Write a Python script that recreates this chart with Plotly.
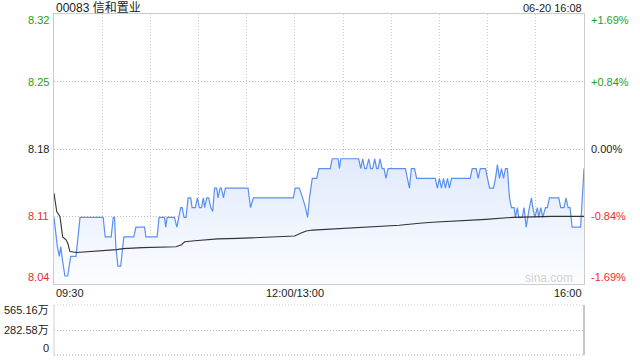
import plotly.graph_objects as go

# ---------------- data ----------------
title_text = "00083 信和置业"
stamp_text = "06-20 16:08"
prev_close = 8.18
price_ticks = [8.32, 8.25, 8.18, 8.11, 8.04]
price_tick_vals = [8.3182, 8.249, 8.18, 8.111, 8.0418]
pct_ticks = ["+1.69%", "+0.84%", "0.00%", "-0.84%", "-1.69%"]
tick_colors = ["#1aa31a", "#1aa31a", "#222222", "#ee2b2b", "#ee2b2b"]
time_labels = ["09:30", "12:00/13:00", "16:00"]
time_label_pos = [0, 150, 330]
grid_minutes = [30, 60, 90, 120, 150, 180, 210, 240, 270, 300]
vol_ticks = ["565.16万", "282.58万", "0"]
vol_tick_vals = [565.16, 282.58, 0]

# minutes since 09:30 (trading minutes, lunch removed) and price
price_t = [0, 2.1, 3.3, 4.2, 5.4, 6.8, 8.5, 10.4, 13.7, 16.2, 30.6, 31.9, 35.6, 36.9, 37.7,
           38.5, 39.8, 41.5, 43.5, 49.7, 51.0, 56.4, 57.2, 64.2, 65.4, 68.8, 69.6, 70.4,
           75.0, 76.5, 78.9, 79.8, 81.0, 82.2, 83.5, 85.1, 86.0, 88.0, 89.3, 90.5, 91.8,
           93.0, 93.8, 95.1, 96.3, 97.6, 98.8, 100.0, 101.3, 102.1, 103.4, 104.2, 105.5,
           106.7, 120.8, 122.4, 124.1, 149.0, 150.2, 152.7, 154.8, 156.6, 157.9, 159.1,
           160.8, 163.6, 164.9, 172.0, 173.2, 176.9, 177.7, 178.6, 189.7, 191.0, 192.2,
           193.5, 194.5, 196.0, 197.2, 198.4, 199.7, 200.9, 201.8, 203.0, 204.3, 205.5,
           206.7, 208.0, 218.8, 220.0, 221.3, 222.5, 224.5, 225.8, 237.4, 238.7, 240.0,
           241.2, 242.5, 243.7, 245.0, 246.2, 247.5, 259.1, 260.4, 262.9, 264.1, 265.4,
           268.7, 269.9, 271.2, 273.6, 274.9, 276.1, 277.4, 278.6, 279.9, 281.1, 282.3,
           283.6, 284.8, 286.5, 287.3, 288.5, 289.4, 291.5, 292.7, 294.0, 294.8, 296.0,
           297.3, 298.1, 299.4, 301.0, 301.8, 303.1, 304.3, 306.0, 307.2, 308.5, 314.3,
           315.5, 317.6, 318.8, 320.1, 321.3, 322.6, 327.9, 330.0]
price_v = [8.11, 8.08, 8.07, 8.08, 8.065, 8.05, 8.05, 8.07, 8.07, 8.11, 8.11, 8.09, 8.09, 8.11, 8.11,
           8.08, 8.06, 8.06, 8.09, 8.09, 8.10, 8.10, 8.09, 8.09, 8.11, 8.11, 8.10, 8.11,
           8.11, 8.10, 8.12, 8.12, 8.11, 8.11, 8.13, 8.13, 8.12, 8.12, 8.13, 8.12, 8.12,
           8.13, 8.12, 8.13, 8.13, 8.12, 8.116, 8.14, 8.14, 8.13, 8.14, 8.14, 8.13,
           8.14, 8.14, 8.12, 8.13, 8.13, 8.14, 8.14, 8.13, 8.12, 8.11, 8.13,
           8.15, 8.15, 8.16, 8.16, 8.17, 8.17, 8.16, 8.17, 8.17, 8.16, 8.17,
           8.16, 8.16, 8.17, 8.16, 8.16, 8.17, 8.16, 8.16, 8.17, 8.16, 8.16,
           8.15, 8.16, 8.16, 8.15, 8.14, 8.16, 8.16, 8.15, 8.15, 8.14, 8.15,
           8.14, 8.15, 8.14, 8.15, 8.14, 8.15, 8.15, 8.16, 8.16, 8.15, 8.16,
           8.16, 8.15, 8.14, 8.14, 8.15, 8.164, 8.15, 8.16, 8.15, 8.16, 8.16,
           8.13, 8.12, 8.12, 8.11, 8.12, 8.11, 8.11, 8.12, 8.10, 8.11, 8.12,
           8.13, 8.12, 8.11, 8.12, 8.11, 8.12, 8.11, 8.12, 8.12, 8.13, 8.13,
           8.12, 8.12, 8.13, 8.12, 8.12, 8.10, 8.10, 8.16]

avg_t = [0, 1.7, 3.7, 5.4, 7.5, 8.7, 9.9, 14.1, 39.0, 43.0, 55.0, 76.0, 79.4, 81.4, 87.6,
         102.0, 114.5, 120.6, 137.3, 149.8, 153.9, 156.0, 157.0, 161.0, 171.5, 186.0,
         202.6, 215.0, 227.5, 235.7, 268.9, 285.5, 310.3, 330.0]
avg_v = [8.135, 8.116, 8.111, 8.09, 8.087, 8.083, 8.075, 8.074, 8.077, 8.078, 8.079, 8.080,
         8.082, 8.085, 8.086, 8.088, 8.0885, 8.089, 8.090, 8.091, 8.094, 8.095, 8.096,
         8.097, 8.098, 8.100, 8.101, 8.102, 8.104, 8.105, 8.108, 8.110, 8.111, 8.111]

# ---------------- geometry ----------------
W, H = 640, 360
X0, X1 = 54 / W, 584 / W
MAIN = [1 - 284 / H, 1 - 14 / H]
VOL = [1 - 355 / H, 1 - 305 / H]
ymin, ymax = price_tick_vals[-1], price_tick_vals[0]
FONT = "Arial, 'Liberation Sans', 'Noto Sans CJK SC', sans-serif"
DOT = "1px,2px"

fig = go.Figure()
# baseline for the area fill
fig.add_trace(go.Scatter(x=[0, 330], y=[ymin, ymin], mode="lines",
                         line=dict(width=0, color="rgba(0,0,0,0)"),
                         hoverinfo="skip", showlegend=False, xaxis="x", yaxis="y"))
fig.add_trace(go.Scatter(x=price_t, y=price_v, mode="lines", fill="tonexty",
                         fillgradient=dict(type="vertical", start=ymin, stop=8.17,
                                           colorscale=[[0, "rgba(252,253,255,1)"],
                                                       [1, "rgba(224,234,252,1)"]]),
                         line=dict(color="#5b8ff0", width=1.2),
                         showlegend=False, xaxis="x", yaxis="y"))
fig.add_trace(go.Scatter(x=avg_t, y=avg_v, mode="lines",
                         line=dict(color="#333333", width=1.1),
                         showlegend=False, xaxis="x", yaxis="y"))
# empty volume panel trace to create the axes
fig.add_trace(go.Scatter(x=[0, 330], y=[0, 0], mode="lines",
                         line=dict(width=0, color="rgba(0,0,0,0)"),
                         showlegend=False, xaxis="x2", yaxis="y2"))

ann = []
ann.append(dict(text=title_text, xref="paper", yref="paper", x=X0, y=1 - 8 / H,
                xanchor="left", yanchor="middle", showarrow=False,
                font=dict(size=12, color="#222", family=FONT)))
ann.append(dict(text=stamp_text, xref="paper", yref="paper", x=X1, y=1 - 8 / H,
                xanchor="right", yanchor="middle", showarrow=False,
                font=dict(size=11, color="#222", family=FONT)))
shifts = [-6, 0, 0, 0, 7]
for lab, v, c, s, p in zip(price_ticks, price_tick_vals, tick_colors, shifts, pct_ticks):
    ann.append(dict(text=f"{lab:.2f}", xref="paper", yref="y", x=51 / W, y=v, yshift=s,
                    xanchor="right", yanchor="middle", showarrow=False,
                    font=dict(size=11, color=c, family=FONT)))
    ann.append(dict(text=p, xref="paper", yref="y", x=589 / W, y=v, yshift=s,
                    xanchor="left", yanchor="middle", showarrow=False,
                    font=dict(size=11, color=c, family=FONT)))
anchors = ["left", "center", "right"]
for lab, pos, a in zip(time_labels, time_label_pos, anchors):
    ann.append(dict(text=lab, xref="x", yref="paper", x=pos, y=1 - 293 / H,
                    xanchor=a, yanchor="middle", showarrow=False,
                    font=dict(size=11, color="#222", family=FONT)))
vshifts = [-5, 0, 7]
for lab, v, s in zip(vol_ticks, vol_tick_vals, vshifts):
    ann.append(dict(text=lab, xref="paper", yref="y2", x=51 / W, y=v, yshift=s,
                    xanchor="right", yanchor="middle", showarrow=False,
                    font=dict(size=11, color="#222", family=FONT)))
ann.append(dict(text="sina.com", xref="paper", yref="paper", x=575 / W, y=1 - 278 / H,
                xanchor="right", yanchor="middle", showarrow=False,
                font=dict(size=12, color="#d2d2d2", family=FONT)))

shapes = [
    dict(type="line", xref="paper", yref="paper", x0=X0, x1=X1, y0=VOL[1], y1=VOL[1],
         line=dict(color="#c8c8c8", width=1, dash=DOT)),
    dict(type="line", xref="paper", yref="paper", x0=X0, x1=X1, y0=VOL[0], y1=VOL[0],
         line=dict(color="#a8a8a8", width=1, dash=DOT)),
    dict(type="line", xref="paper", yref="paper", x0=X0, x1=X0, y0=VOL[0], y1=VOL[1],
         line=dict(color="#d0d0d0", width=1)),
    dict(type="line", xref="paper", yref="paper", x0=X1, x1=X1, y0=VOL[0], y1=VOL[1],
         line=dict(color="#909090", width=1)),
]

fig.update_layout(
    width=W, height=H, autosize=False,
    margin=dict(l=0, r=0, t=0, b=0),
    paper_bgcolor="white", plot_bgcolor="white",
    annotations=ann, shapes=shapes,
    xaxis=dict(domain=[X0, X1], range=[0, 330], anchor="y",
               tickvals=grid_minutes, showticklabels=False, ticks="",
               showgrid=True, gridcolor="#c8c8c8", griddash=DOT, gridwidth=1,
               showline=True, linecolor="#cccccc", linewidth=1, mirror=True,
               zeroline=False, fixedrange=True),
    yaxis=dict(domain=MAIN, range=[ymin, ymax], anchor="x",
               tickvals=price_tick_vals[1:4], showticklabels=False, ticks="",
               showgrid=True, gridcolor="#bdbdbd", griddash=DOT, gridwidth=1,
               showline=True, linecolor="#cccccc", linewidth=1, mirror=True,
               zeroline=False, fixedrange=True),
    xaxis2=dict(domain=[X0, X1], range=[0, 330], anchor="y2",
                showticklabels=False, ticks="", showgrid=False, showline=False,
                zeroline=False, fixedrange=True),
    yaxis2=dict(domain=VOL, range=[0, 565.16], anchor="x2",
                tickvals=[282.58], showticklabels=False, ticks="",
                showgrid=True, gridcolor="#c0c0c0", griddash=DOT, gridwidth=1,
                showline=False, zeroline=False, fixedrange=True),
)

fig.write_html("out.html")
